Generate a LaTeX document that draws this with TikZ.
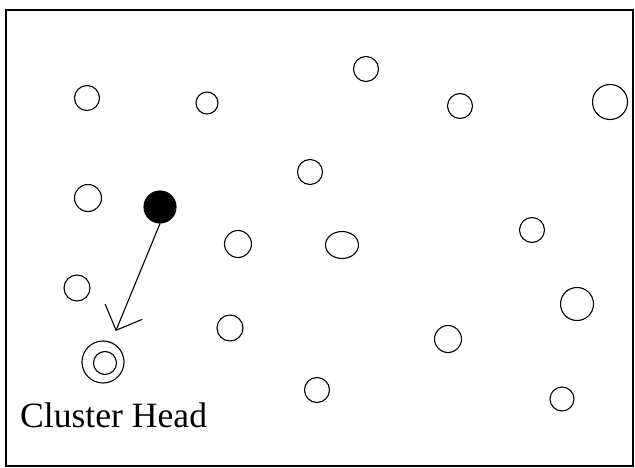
\documentclass[tikz,border=0pt]{standalone}
\usepackage{fontspec}
\setmainfont{Liberation Serif}
\usetikzlibrary{arrows.meta,shapes.geometric}
\tikzset{
  sensor/.style={circle, draw, line width=1.1pt, minimum size=25pt, inner sep=0pt},
  bigsensor/.style={sensor, minimum size=33pt},
  source/.style={sensor, fill=black, minimum size=32pt},
}
\begin{document}
\begin{tikzpicture}[x=1pt,y=-1pt]
		\useasboundingbox (0,0) rectangle (635,468);
		\draw[line width=2.5pt] (6,10) rectangle (633,466);
		
		\node[sensor] (s1) at (87,98) {};
		\node[sensor, minimum size=22pt] (s2) at (207,103) {};
		\node[sensor] (s3) at (366,69) {};
		\node[sensor] (s4) at (460,106) {};
		\node[bigsensor, minimum size=35pt] (s5) at (610,102) {};
		\node[sensor] (s6) at (310,172) {};
		\node[sensor, minimum size=27pt] (s7) at (88,198) {};
		\node[sensor, minimum size=27pt] (s8) at (238,244) {};
		\node[ellipse, draw, line width=1.1pt, minimum width=33pt, minimum height=27pt, inner sep=0pt] (s9) at (342,245) {};
		\node[sensor] (s10) at (532,230) {};
		\node[sensor, minimum size=26pt] (s11) at (77,288) {};
		\node[bigsensor] (s12) at (577,304) {};
		\node[sensor, minimum size=26pt] (s13) at (230,328) {};
		\node[sensor, minimum size=27pt] (s14) at (448,339) {};
		\node[sensor] (s15) at (317,390) {};
		\node[sensor, minimum size=24pt] (s16) at (562,399) {};
		
		\node[source] (src) at (160,207) {};
		\node[sensor, minimum size=42pt] (head) at (103,362) {};
		\node[sensor, minimum size=23pt] (headin) at (105,363) {};
		\node[anchor=base west, inner sep=0pt, font=\fontsize{35.6}{40}\selectfont] (lbl) at (20,427) {Cluster Head};
		
		\draw[line width=1.1pt, -{Straight Barb[length=20pt, width=40pt, line width=1.1pt]}, shorten >=12pt] (src.south) -- (head);
\end{tikzpicture}
\end{document}
